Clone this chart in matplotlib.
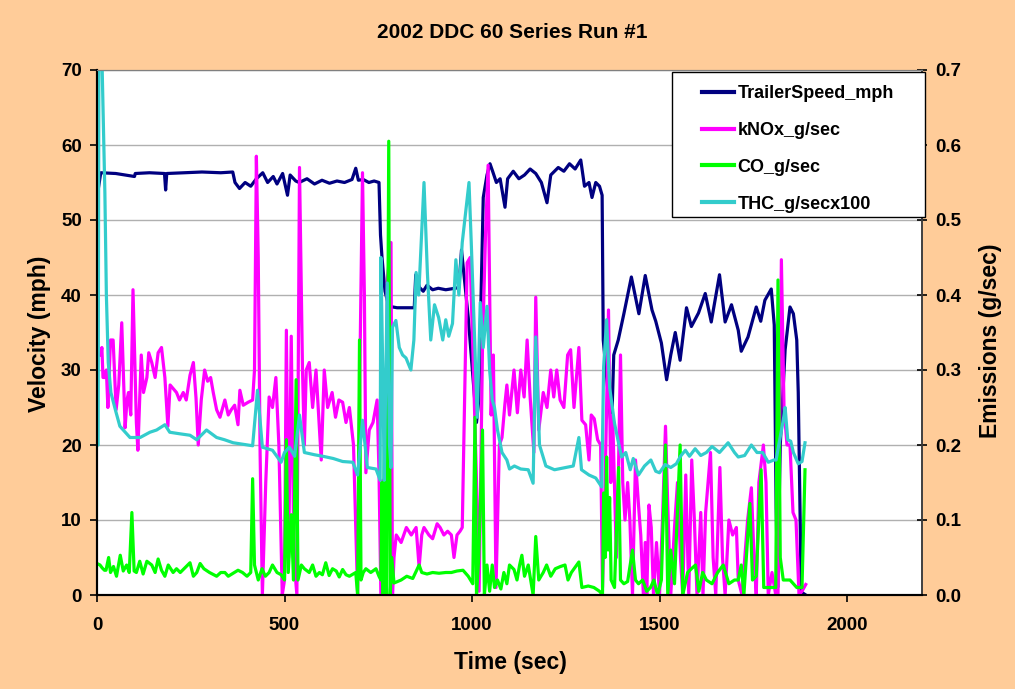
import matplotlib
matplotlib.use("Agg")
import matplotlib.pyplot as plt
import matplotlib.patches as patches
from matplotlib.lines import Line2D
from matplotlib.ticker import FormatStrFormatter

plt.rcParams['font.family'] = ['Liberation Sans', 'DejaVu Sans']
plt.rcParams['font.weight'] = 'bold'

# TrailerSpeed_mph (left axis)
speed_t = [0, 3, 10, 50, 100, 102, 140, 180, 183, 186, 230, 280, 330, 362, 368, 380, 395, 410, 425,
           442, 455, 470, 480, 495, 508, 515, 530, 539, 560, 580, 600, 620, 640, 660, 680, 690, 697,
           710, 725, 739, 752, 756, 760, 768, 778, 800, 820, 846, 850, 860, 870, 880, 895, 910, 930,
           955, 965, 972, 990, 1012, 1018, 1030, 1040, 1048, 1055, 1065, 1075, 1088, 1095, 1110, 1125,
           1140, 1155, 1170, 1185, 1200, 1210, 1230, 1245, 1260, 1275, 1290, 1300, 1312, 1320, 1330,
           1340, 1347, 1350, 1372, 1378, 1390, 1405, 1425, 1445, 1462, 1480, 1490, 1505, 1519, 1530,
           1542, 1555, 1572, 1585, 1604, 1622, 1638, 1660, 1675, 1692, 1710, 1718, 1736, 1758, 1770,
           1781, 1798, 1806, 1811, 1815, 1822, 1835, 1848, 1857, 1866, 1870, 1878, 1890]
speed_v = [52, 54, 56.3, 56.2, 55.8, 56.2, 56.3, 56.2, 54, 56.2, 56.3, 56.4, 56.3, 56.4, 55, 54.2, 55,
           54.5, 55.5, 56.3, 55, 55.8, 54.8, 56.2, 53.3, 56, 55.2, 55, 55.5, 54.8, 55.3, 54.9, 55.2, 55,
           55.4, 56.9, 55.3, 55.4, 55, 55.2, 55, 48, 45, 40.5, 38.5, 38.3, 38.3, 38.3, 42.7, 41, 40.5,
           41.3, 40.7, 40.9, 40.7, 40.9, 41, 46, 37, 23, 26, 53, 56, 57.5, 56.5, 55, 55.5, 51.7, 55.5,
           56.5, 55.5, 56, 56.8, 56.2, 55, 52.3, 56, 57, 56.5, 57.5, 56.8, 58, 54.5, 55, 53, 55, 54.5,
           53.3, 34, 22, 32, 34, 37.5, 42.4, 37.5, 42.6, 38, 36.5, 33.6, 28.7, 32, 35, 31.3, 38.3, 35.8,
           37.6, 40.2, 36.4, 42.7, 36.4, 38.7, 35.3, 32.5, 34.4, 38.4, 36.5, 39.3, 40.8, 36, 11.7, 1,
           20, 32.7, 38.4, 37.5, 34, 27, 0.4, 0]

# kNOx_g/sec (right axis)
nox_t = [10, 13, 16, 21, 25, 29, 36, 43, 51, 58, 66, 75, 80, 84, 90, 96, 105, 109, 118, 124, 133, 138,
         146, 155, 163, 172, 181, 189, 195, 212, 220, 230, 238, 248, 257, 264, 270, 278, 287, 295, 303,
         310, 319, 328, 341, 350, 358, 367, 376, 381, 390, 403, 415, 420, 425, 430, 435, 441, 450, 459,
         468, 477, 485, 494, 500, 505, 511, 518, 525, 533, 540, 548, 553, 558, 566, 575, 584, 592, 598,
         606, 615, 627, 636, 645, 655, 664, 673, 684, 695, 701, 708, 713, 717, 726, 736, 747, 752, 757,
         762, 766, 770, 774, 784, 788, 792, 798, 811, 825, 838, 851, 859, 866, 872, 885, 895, 907, 915,
         925, 935, 945, 952, 960, 968, 974, 987, 995, 1005, 1012, 1019, 1028, 1036, 1043, 1051, 1057,
         1064, 1073, 1080, 1088, 1093, 1100, 1112, 1121, 1130, 1139, 1147, 1155, 1165, 1170, 1178, 1190,
         1200, 1210, 1218, 1226, 1235, 1245, 1255, 1263, 1272, 1285, 1293, 1303, 1312, 1318, 1326, 1335,
         1343, 1348, 1355, 1364, 1370, 1375, 1385, 1390, 1396, 1402, 1408, 1415, 1421, 1428, 1436, 1444,
         1450, 1457, 1462, 1466, 1472, 1478, 1484, 1492, 1500, 1508, 1516, 1522, 1530, 1540, 1548, 1556,
         1562, 1570, 1578, 1586, 1593, 1600, 1610, 1616, 1623, 1636, 1643, 1650, 1661, 1668, 1675, 1685,
         1695, 1705, 1710, 1720, 1735, 1745, 1752, 1758, 1765, 1777, 1784, 1790, 1800, 1810, 1816, 1825,
         1832, 1840, 1848, 1856, 1864, 1872, 1880, 1890]
nox_v = [0.32, 0.33, 0.29, 0.29, 0.3, 0.25, 0.34, 0.34, 0.247, 0.28, 0.363, 0.223, 0.26, 0.27, 0.24,
         0.407, 0.23, 0.193, 0.32, 0.27, 0.29, 0.323, 0.31, 0.29, 0.323, 0.33, 0.29, 0.225, 0.28, 0.27,
         0.26, 0.27, 0.26, 0.293, 0.31, 0.263, 0.2, 0.26, 0.3, 0.285, 0.29, 0.27, 0.247, 0.237, 0.26,
         0.24, 0.247, 0.253, 0.227, 0.273, 0.253, 0.257, 0.26, 0.3, 0.585, 0.45, 0.187, 0.0, 0.15, 0.264,
         0.25, 0.29, 0.2, 0.0, 0.02, 0.353, 0.05, 0.345, 0.05, 0.0, 0.57, 0.3, 0.2, 0.3, 0.31, 0.25, 0.3,
         0.23, 0.18, 0.3, 0.25, 0.27, 0.237, 0.26, 0.257, 0.23, 0.25, 0.2, 0.0, 0.3, 0.563, 0.4, 0.163,
         0.22, 0.23, 0.26, 0.163, 0.0, 0.153, 0.12, 0.0, 0.42, 0.47, 0.0, 0.05, 0.08, 0.07, 0.09, 0.08,
         0.09, 0.037, 0.08, 0.09, 0.08, 0.075, 0.095, 0.09, 0.08, 0.085, 0.08, 0.05, 0.08, 0.085, 0.09,
         0.443, 0.45, 0.28, 0.15, 0.005, 0.33, 0.48, 0.573, 0.24, 0.32, 0.01, 0.2, 0.21, 0.256, 0.28,
         0.24, 0.3, 0.243, 0.3, 0.264, 0.34, 0.264, 0.19, 0.397, 0.22, 0.27, 0.25, 0.3, 0.264, 0.3, 0.26,
         0.25, 0.32, 0.327, 0.25, 0.33, 0.233, 0.227, 0.18, 0.24, 0.235, 0.207, 0.2, 0.01, 0.15, 0.38,
         0.15, 0.24, 0.05, 0.15, 0.32, 0.15, 0.1, 0.15, 0.1, 0.0, 0.18, 0.12, 0.08, 0.0, 0.07, 0.0, 0.12,
         0.09, 0.0, 0.07, 0.0, 0.1, 0.225, 0.12, 0.0, 0.09, 0.15, 0.05, 0.0, 0.16, 0.0, 0.18, 0.1, 0.0,
         0.11, 0.0, 0.11, 0.19, 0.05, 0.0, 0.17, 0.05, 0.0, 0.1, 0.08, 0.09, 0.02, 0.0, 0.1, 0.143, 0.05,
         0.0, 0.15, 0.2, 0.15, 0.0, 0.03, 0.0, 0.0, 0.447, 0.25, 0.2, 0.2, 0.11, 0.1, 0.0, 0.005, 0.014]

# CO_g/sec (right axis)
co_t = [0, 8, 14, 20, 24, 31, 36, 44, 52, 62, 70, 79, 86, 93, 99, 105, 114, 123, 133, 146, 155, 163,
        172, 181, 190, 203, 212, 222, 232, 248, 257, 266, 275, 285, 300, 319, 330, 341, 350, 366, 376,
        388, 400, 410, 415, 420, 430, 440, 449, 459, 468, 480, 491, 500, 505, 510, 518, 524, 531, 536,
        545, 553, 566, 575, 584, 593, 601, 610, 619, 628, 638, 646, 655, 664, 673, 690, 695, 700, 704,
        710, 717, 730, 744, 752, 757, 760, 763, 768, 772, 778, 782, 786, 792, 811, 826, 842, 859, 866,
        880, 895, 912, 930, 945, 960, 976, 990, 1002, 1008, 1012, 1018, 1028, 1033, 1040, 1047, 1054,
        1060, 1068, 1077, 1085, 1093, 1100, 1112, 1120, 1127, 1133, 1140, 1150, 1163, 1170, 1178, 1190,
        1199, 1210, 1222, 1236, 1248, 1256, 1265, 1285, 1293, 1310, 1325, 1340, 1348, 1351, 1355, 1359,
        1363, 1367, 1371, 1380, 1391, 1396, 1405, 1415, 1428, 1436, 1444, 1455, 1466, 1476, 1485, 1495,
        1505, 1516, 1522, 1530, 1540, 1555, 1562, 1575, 1585, 1596, 1605, 1615, 1625, 1640, 1655, 1670,
        1685, 1700, 1710, 1718, 1725, 1741, 1748, 1758, 1771, 1778, 1798, 1810, 1816, 1822, 1830, 1848,
        1866, 1880, 1888]
co_v = [0.042, 0.04, 0.036, 0.033, 0.033, 0.05, 0.03, 0.038, 0.025, 0.053, 0.032, 0.04, 0.03, 0.11,
        0.032, 0.03, 0.045, 0.028, 0.045, 0.04, 0.03, 0.048, 0.033, 0.025, 0.04, 0.03, 0.035, 0.03,
        0.035, 0.043, 0.025, 0.03, 0.042, 0.035, 0.03, 0.025, 0.03, 0.03, 0.025, 0.03, 0.033, 0.03,
        0.025, 0.03, 0.155, 0.04, 0.02, 0.035, 0.025, 0.03, 0.04, 0.03, 0.027, 0.02, 0.207, 0.03, 0.107,
        0.02, 0.287, 0.02, 0.04, 0.035, 0.03, 0.04, 0.025, 0.03, 0.027, 0.043, 0.026, 0.035, 0.032,
        0.024, 0.034, 0.027, 0.025, 0.03, 0.0, 0.34, 0.02, 0.03, 0.035, 0.03, 0.035, 0.025, 0.02, 0.15,
        0.0, 0.3, 0.0, 0.605, 0.0, 0.05, 0.016, 0.02, 0.025, 0.022, 0.04, 0.03, 0.028, 0.03, 0.029,
        0.03, 0.03, 0.032, 0.033, 0.025, 0.015, 0.237, 0.0, 0.05, 0.22, 0.0, 0.04, 0.005, 0.04, 0.01,
        0.02, 0.008, 0.03, 0.015, 0.04, 0.034, 0.02, 0.04, 0.053, 0.025, 0.04, 0.0, 0.078, 0.02, 0.03,
        0.04, 0.025, 0.035, 0.038, 0.04, 0.02, 0.03, 0.044, 0.01, 0.012, 0.01, 0.005, 0.0, 0.136, 0.05,
        0.184, 0.06, 0.13, 0.02, 0.01, 0.17, 0.02, 0.015, 0.018, 0.06, 0.02, 0.015, 0.02, 0.005, 0.01,
        0.02, 0.0, 0.02, 0.2, 0.0, 0.06, 0.015, 0.2, 0.0, 0.03, 0.035, 0.04, 0.005, 0.03, 0.02, 0.015,
        0.03, 0.04, 0.015, 0.02, 0.02, 0.04, 0.0, 0.122, 0.02, 0.025, 0.167, 0.01, 0.01, 0.01, 0.42,
        0.05, 0.02, 0.02, 0.01, 0.01, 0.167]

# THC_g/secx100 (right axis)
thc_t = [0, 3, 5, 13, 21, 25, 30, 37, 50, 61, 79, 88, 115, 141, 159, 181, 194, 220, 248, 266, 292,
         319, 340, 363, 390, 415, 428, 441, 468, 491, 500, 513, 527, 540, 553, 580, 602, 630, 655, 682,
         695, 708, 721, 744, 755, 757, 762, 766, 774, 780, 784, 788, 797, 806, 815, 824, 837, 845, 851,
         858, 872, 881, 890, 900, 911, 922, 930, 938, 948, 957, 965, 974, 992, 998, 1005, 1014, 1022,
         1030, 1040, 1047, 1054, 1060, 1068, 1080, 1093, 1100, 1113, 1130, 1150, 1163, 1170, 1180, 1197,
         1220, 1250, 1270, 1285, 1292, 1312, 1330, 1346, 1351, 1359, 1367, 1380, 1392, 1399, 1410, 1422,
         1430, 1444, 1460, 1477, 1490, 1500, 1515, 1530, 1545, 1556, 1569, 1580, 1595, 1610, 1625, 1640,
         1660, 1683, 1700, 1710, 1727, 1745, 1760, 1775, 1790, 1805, 1811, 1818, 1830, 1835, 1842, 1850,
         1857, 1870, 1880, 1888]
thc_v = [0.2, 0.2, 0.72, 0.72, 0.536, 0.4, 0.31, 0.27, 0.245, 0.225, 0.215, 0.21, 0.21, 0.217, 0.22,
         0.227, 0.217, 0.215, 0.213, 0.207, 0.22, 0.21, 0.207, 0.203, 0.201, 0.199, 0.273, 0.197, 0.193,
         0.177, 0.19, 0.197, 0.185, 0.24, 0.19, 0.187, 0.185, 0.182, 0.178, 0.177, 0.16, 0.233, 0.17,
         0.168, 0.153, 0.45, 0.3, 0.153, 0.416, 0.2, 0.17, 0.357, 0.366, 0.33, 0.32, 0.316, 0.3, 0.34,
         0.43, 0.4, 0.55, 0.43, 0.34, 0.387, 0.37, 0.34, 0.367, 0.345, 0.362, 0.447, 0.4, 0.47, 0.55,
         0.47, 0.37, 0.237, 0.39, 0.33, 0.385, 0.3, 0.26, 0.25, 0.22, 0.19, 0.18, 0.168, 0.172, 0.168,
         0.167, 0.149, 0.344, 0.2, 0.172, 0.167, 0.17, 0.172, 0.21, 0.167, 0.16, 0.156, 0.144, 0.304,
         0.367, 0.277, 0.229, 0.2, 0.184, 0.19, 0.167, 0.182, 0.16, 0.172, 0.18, 0.165, 0.163, 0.174,
         0.17, 0.175, 0.185, 0.193, 0.185, 0.195, 0.186, 0.19, 0.198, 0.19, 0.203, 0.19, 0.184, 0.186,
         0.2, 0.19, 0.19, 0.177, 0.18, 0.18, 0.2, 0.233, 0.25, 0.207, 0.205, 0.19, 0.175, 0.178, 0.203]

W, H = 1015, 689
fig = plt.figure(figsize=(W / 100, H / 100), dpi=100, facecolor='#FFCC99')
ax = fig.add_axes([97 / W, 94 / H, 825 / W, 525 / H])
ax.set_facecolor('white')
ax2 = ax.twinx()

lw = 2.3
ax.plot(speed_t, speed_v, color='#000080', lw=lw, solid_joinstyle='round')
ax2.plot(nox_t, nox_v, color='#FF00FF', lw=lw, solid_joinstyle='round')
ax2.plot(co_t, co_v, color='#00FF00', lw=lw, solid_joinstyle='round')
ax2.plot(thc_t, thc_v, color='#33CCCC', lw=lw, solid_joinstyle='round')

ax.set_xlim(0, 2200)
ax.set_ylim(0, 70)
ax2.set_ylim(0, 0.7)
ax.set_xticks([0, 500, 1000, 1500, 2000])
ax.set_yticks(range(0, 71, 10))
ax2.set_yticks([i / 10 for i in range(8)])
ax2.yaxis.set_major_formatter(FormatStrFormatter('%.1f'))

ax.yaxis.grid(True, color='#B0B0B0', lw=1)
ax.set_axisbelow(True)

ax.tick_params(axis='x', direction='out', length=5, width=1.2, pad=11, labelsize=13.5)
ax.tick_params(axis='y', direction='out', length=5, width=1.2, pad=6, labelsize=13.5)
ax2.tick_params(axis='y', direction='inout', length=7, width=1.2, pad=6, labelsize=13.5)

for a in (ax, ax2):
    a.spines['top'].set_color('#808080')
    a.spines['left'].set_linewidth(1.5)
    a.spines['bottom'].set_linewidth(1.5)
    a.spines['right'].set_color('#404040')
    a.spines['right'].set_linewidth(1.2)

fig.text(512 / W, 1 - 33 / H, '2002 DDC 60 Series Run #1', ha='center', va='center',
         fontsize=15, fontweight='bold')
fig.text(510 / W, 1 - 662 / H, 'Time (sec)', ha='center', va='center', fontsize=16.5,
         fontweight='bold')
fig.text(40 / W, 1 - 334 / H, 'Velocity (mph)', ha='center', va='center', rotation=90,
         fontsize=16.5, fontweight='bold')
fig.text(991 / W, 1 - 341 / H, 'Emissions (g/sec)', ha='center', va='center', rotation=90,
         fontsize=16.5, fontweight='bold')

# legend box
box = patches.Rectangle((672 / W, 1 - 217 / H), 253 / W, 145 / H, transform=fig.transFigure,
                        facecolor='white', edgecolor='black', lw=1, zorder=2)
fig.patches.append(box)
handles = [Line2D([], [], color=c, lw=3) for c in ['#000080', '#FF00FF', '#00FF00', '#33CCCC']]
labels = ['TrailerSpeed_mph', 'kNOx_g/sec', 'CO_g/sec', 'THC_g/secx100']
leg = fig.legend(handles, labels, loc='upper left', bbox_to_anchor=(702 / W, 1 - 85 / H),
                 frameon=False, borderpad=0, borderaxespad=0, handlelength=1.75,
                 handletextpad=0.22, labelspacing=1.1,
                 prop={'size': 13, 'weight': 'bold'})
leg.set_zorder(3)

fig.savefig('out.png', dpi=100, facecolor=fig.get_facecolor())
